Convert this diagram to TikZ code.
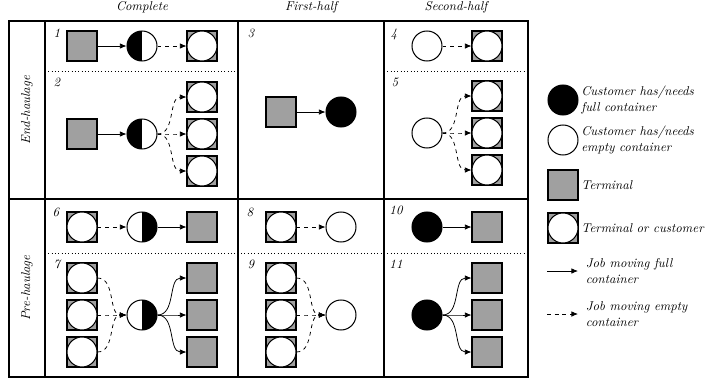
\documentclass[tikz,border=0pt]{standalone}
\usetikzlibrary{arrows.meta, positioning}
\definecolor{termgray}{RGB}{160,160,160}

\begin{document}
\begin{tikzpicture}[
  x=0.0275cm, y=-0.0275cm,
  font=\itshape,
  term/.style   ={draw, fill=termgray, thick, minimum size=0.825cm, inner sep=0pt},
  cust/.style   ={draw, circle, fill=white, thick, minimum size=0.825cm, inner sep=0pt},
  fullc/.style  ={cust, fill=black},
  halfin/.style ={cust, path picture={\fill[black] (path picture bounding box.north west)
                  rectangle (path picture bounding box.south);}},
  halfout/.style={cust, path picture={\fill[black] (path picture bounding box.north)
                  rectangle (path picture bounding box.south east);}},
  toc/.style    ={term, label={[cust]center:}},
  % job edge styles ----------------------------------------------------
  fulljob/.style ={semithick, -{Latex[length=1.8mm, width=1.5mm]}},
  emptyjob/.style={fulljob, dashed},
  grid/.style    ={line width=0.8pt},
  sub/.style     ={dotted, semithick},
  num/.style     ={anchor=center},
  legtext/.style ={anchor=west, align=left, inner sep=1pt},
]
\useasboundingbox (0,0) rectangle (713,379);

% =========================== TABLE ==================================
\draw[grid] (9,21) rectangle (528,377);
\draw[grid] (45,21) -- (45,377);
\draw[grid] (238,21) -- (238,377);
\draw[grid] (384,21) -- (384,377);
\draw[grid] (9,199) -- (528,199);
\draw[sub] (45,71) -- (238,71);
\draw[sub] (384,71) -- (528,71);
\draw[sub] (45,253) -- (528,253);

\node (hcomp)  at (142,7) {Complete};
\node (hfirst) at (311,7) {First-half};
\node (hsec)   at (456,7) {Second-half};
\node[rotate=90] (rend) at (27,110) {End-haulage};
\node[rotate=90] (rpre) at (27,288) {Pre-haulage};

% =========================== END-HAULAGE ============================
% 1
\node[num] (n1) at (57,33) {1};
\node[term]   (t1) at (82,46) {};
\node[halfin] (h1) at (142,46) {};
\node[toc]    (c1) at (202,46) {};
\draw[fulljob]  (t1) -- (h1);
\draw[emptyjob] (h1) -- (c1);

% 2
\node[num] (n2) at (57,82) {2};
\node[term]   (t2) at (82,134) {};
\node[halfin] (h2) at (142,134) {};
\foreach \i/\y in {a/97, b/134, c/171}
  \node[toc] (c2\i) at (202,\y) {};
\draw[fulljob] (t2) -- (h2);
\foreach \i in {a, b, c}
  \draw[emptyjob] (h2.east) to[out=0, in=180] (c2\i.west);

% 3
\node[num] (n3) at (251,33) {3};
\node[term]  (t3) at (281,112) {};
\node[fullc] (f3) at (341,112) {};
\draw[fulljob] (t3) -- (f3);

% 4
\node[num] (n4) at (394,34) {4};
\node[cust] (e4) at (427,46) {};
\node[toc]  (c4) at (487,46) {};
\draw[emptyjob] (e4) -- (c4);

% 5
\node[num] (n5) at (395,82) {5};
\node[cust] (e5) at (427,133) {};
\foreach \i/\y in {a/96, b/133, c/170}
  \node[toc] (c5\i) at (487,\y) {};
\foreach \i in {a, b, c}
  \draw[emptyjob] (e5.east) to[out=0, in=180] (c5\i.west);

% =========================== PRE-HAULAGE ============================
% 6
\node[num] (n6) at (56,212) {6};
\node[toc]     (c6) at (82,227) {};
\node[halfout] (h6) at (142,227) {};
\node[term]    (t6) at (202,227) {};
\draw[emptyjob] (c6) -- (h6);
\draw[fulljob]  (h6) -- (t6);

% 7
\node[num] (n7) at (57,264) {7};
\node[halfout] (h7) at (142,315) {};
\foreach \i/\y in {a/278, b/315, c/352} {
  \node[toc]  (c7\i) at (82,\y) {};
  \node[term] (t7\i) at (202,\y) {};
}
\foreach \i in {a, b, c} {
  \draw[emptyjob] (c7\i.east) to[out=0, in=180] (h7.west);
  \draw[fulljob]  (h7.east) to[out=0, in=180] (t7\i.west);
}

% 8
\node[num] (n8) at (250,212) {8};
\node[toc]  (c8) at (281,227) {};
\node[cust] (e8) at (341,227) {};
\draw[emptyjob] (c8) -- (e8);

% 9
\node[num] (n9) at (251,264) {9};
\node[cust] (e9) at (341,315) {};
\foreach \i/\y in {a/278, b/315, c/352}
  \node[toc] (c9\i) at (281,\y) {};
\foreach \i in {a, b, c}
  \draw[emptyjob] (c9\i.east) to[out=0, in=180] (e9.west);

% 10
\node[num] (n10) at (396,210) {10};
\node[fullc] (f10) at (427,227) {};
\node[term]  (t10) at (487,227) {};
\draw[fulljob] (f10) -- (t10);

% 11
\node[num] (n11) at (396,264) {11};
\node[fullc] (f11) at (427,315) {};
\foreach \i/\y in {a/278, b/315, c/352}
  \node[term] (t11\i) at (487,\y) {};
\foreach \i in {a, b, c}
  \draw[fulljob] (f11.east) to[out=0, in=180] (t11\i.west);

% =========================== LEGEND =================================
\node[fullc] (lfull) at (563,100) {};
\node[legtext, right=1pt of lfull] (lfullt) {Customer has/needs\\full container};
\node[cust]  (lemp)  at (563,140) {};
\node[legtext, right=1pt of lemp] (lempt) {Customer has/needs\\empty container};
\node[term]  (lterm) at (563,185) {};
\node[legtext, right=1pt of lterm] (ltermt) {Terminal};
\node[toc]   (ltoc)  at (563,228) {};
\node[legtext, right=1pt of ltoc] (ltoct) {Terminal or customer};

\coordinate (lfa) at (547,271);
\coordinate (lfb) at (578,271);
\draw[fulljob] (lfa) -- (lfb);
\node[legtext, right=5pt of lfb] (lfjt) {Job moving full\\container};
\coordinate (lea) at (547,314);
\coordinate (leb) at (578,314);
\draw[emptyjob] (lea) -- (leb);
\node[legtext, right=5pt of leb] (lejt) {Job moving empty\\container};

\end{tikzpicture}
\end{document}
